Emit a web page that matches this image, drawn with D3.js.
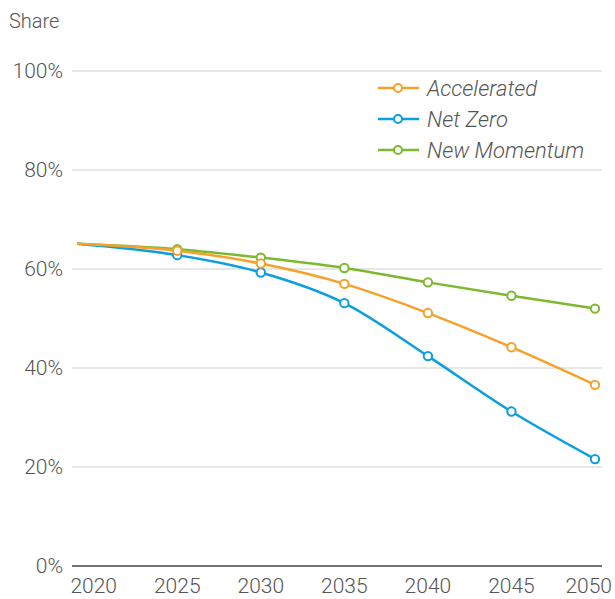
<!DOCTYPE html>
<html lang="en">
<head>
<meta charset="UTF-8">
<title>Share</title>
<script src="https://d3js.org/d3.v7.min.js"></script>
<style>
  body { margin: 0; background: #fff; }
  text { font-family: Roboto, "Open Sans", sans-serif; font-weight: 300; fill: #555; }
</style>
</head>
<body>
<script>
// data
const years = [2019, 2025, 2030, 2035, 2040, 2045, 2050];
const accelerated = [65.1, 63.7, 61.1, 57.0, 51.1, 44.2, 36.6];
const netZero = [65.1, 62.8, 59.3, 53.1, 42.4, 31.2, 21.6];
const newMomentum = [65.1, 64.0, 62.3, 60.2, 57.3, 54.6, 52.0];
const xTicks = [2020, 2025, 2030, 2035, 2040, 2045, 2050];
const yTicks = [0, 20, 40, 60, 80, 100];

const series = [
  { name: "New Momentum", values: newMomentum, color: "#7db92f" },
  { name: "Net Zero", values: netZero, color: "#0a9fe0" },
  { name: "Accelerated", values: accelerated, color: "#f5a12a" }
];
const legendOrder = ["Accelerated", "Net Zero", "New Momentum"];

const width = 615, height = 599;
const svg = d3.select("body").append("svg")
  .attr("width", width)
  .attr("height", height);

const x = d3.scaleLinear().domain([2019, 2050]).range([77, 595]);
const y = d3.scaleLinear().domain([0, 100]).range([566, 71]);

// title
svg.append("text")
  .attr("x", 9).attr("y", 28)
  .attr("font-size", 20)
  .text("Share");

// gridlines
svg.append("g").selectAll("line")
  .data(yTicks.filter(d => d > 0))
  .join("line")
  .attr("x1", 72).attr("x2", 602)
  .attr("y1", d => y(d)).attr("y2", d => y(d))
  .attr("stroke", "#d0d0d0")
  .attr("stroke-width", 1.2);

// y labels
svg.append("g").selectAll("text")
  .data(yTicks)
  .join("text")
  .attr("x", 63)
  .attr("y", d => y(d))
  .attr("dy", "0.35em")
  .attr("text-anchor", "end")
  .attr("font-size", 21)
  .text(d => d + "%");

// x axis baseline
svg.append("line")
  .attr("x1", 72).attr("x2", 602)
  .attr("y1", y(0)).attr("y2", y(0))
  .attr("stroke", "#444")
  .attr("stroke-width", 1.6);

// x labels (kept clear of the bottom edge)
svg.append("g").selectAll("text")
  .data(xTicks)
  .join("text")
  .attr("x", d => d === 2050 ? 612 : x(d))
  .attr("y", 593)
  .attr("text-anchor", d => d === 2050 ? "end" : "middle")
  .attr("font-size", 21)
  .text(d => d);

const line = d3.line()
  .x((d, i) => x(years[i]))
  .y(d => y(d))
  .curve(d3.curveMonotoneX);

series.forEach(s => {
  const g = svg.append("g");
  g.append("path")
    .attr("d", line(s.values))
    .attr("fill", "none")
    .attr("stroke", s.color)
    .attr("stroke-width", 2.5);
  g.selectAll("circle")
    .data(s.values.slice(1))
    .join("circle")
    .attr("cx", (d, i) => x(years[i + 1]))
    .attr("cy", d => y(d))
    .attr("r", 4.2)
    .attr("fill", "#fff")
    .attr("stroke", s.color)
    .attr("stroke-width", 2);
});

// legend
const legend = svg.append("g");
legendOrder.forEach((name, i) => {
  const s = series.find(d => d.name === name);
  const ly = 88 + i * 31;
  legend.append("line")
    .attr("x1", 378).attr("x2", 419)
    .attr("y1", ly).attr("y2", ly)
    .attr("stroke", s.color)
    .attr("stroke-width", 2.5);
  legend.append("circle")
    .attr("cx", 398).attr("cy", ly)
    .attr("r", 4)
    .attr("fill", "#fff")
    .attr("stroke", s.color)
    .attr("stroke-width", 2);
  legend.append("text")
    .attr("x", 427).attr("y", ly)
    .attr("dy", "0.35em")
    .attr("font-size", 22)
    .attr("font-style", "italic")
    .text(name);
});
</script>
</body>
</html>
